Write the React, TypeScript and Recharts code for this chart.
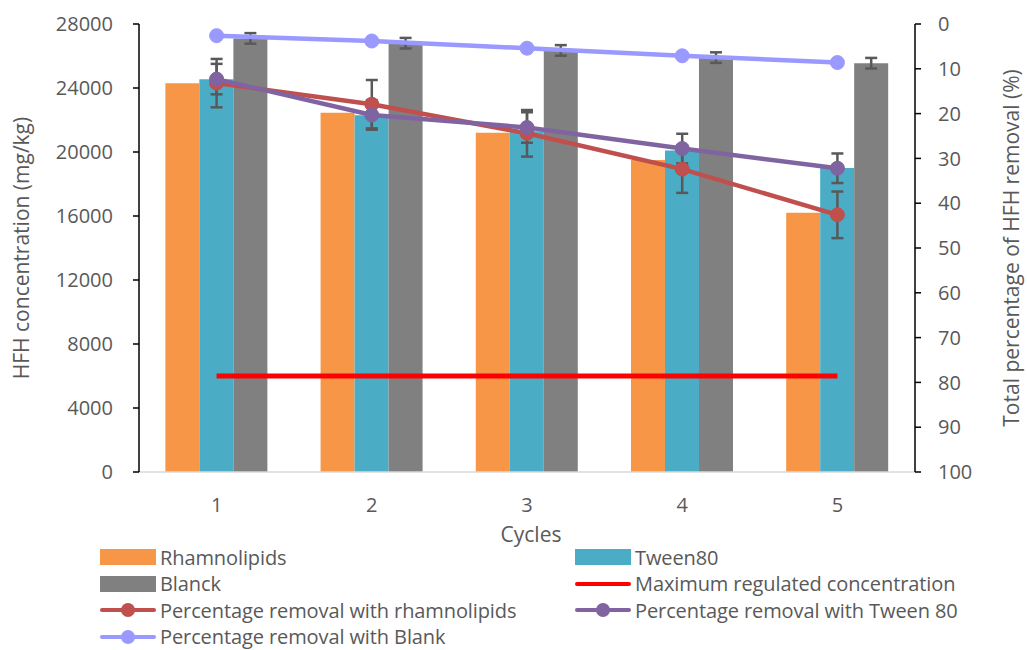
import { ComposedChart, Bar, Line, XAxis, YAxis, ErrorBar, Label } from 'recharts';

const cycles = ['1', '2', '3', '4', '5'];
const rhamnolipids = [24300, 22450, 21200, 19500, 16200];
const tween80 = [24550, 22300, 21300, 20100, 19000];
const blanck = [27100, 26800, 26350, 25900, 25550];
const blanckErr = [330, 330, 330, 330, 330];
const regulatedLimit = [6000, 6000, 6000, 6000, 6000];
const pctRhamno = [13.2, 17.9, 24.4, 32.4, 42.6];
const pctRhamnoErr = [5.4, 5.4, 5.2, 5.3, 5.2];
const pctTween = [12.3, 20.3, 23.1, 27.8, 32.2];
const pctTweenErr = [3.4, 3.3, 3.4, 3.3, 3.3];
const pctBlank = [2.6, 3.8, 5.4, 7.1, 8.6];

const leftTicks = [0, 4000, 8000, 12000, 16000, 20000, 24000, 28000];
const rightTicks = [0, 10, 20, 30, 40, 50, 60, 70, 80, 90, 100];

const data = cycles.map((c, i) => ({
  cycle: c,
  rhamnolipids: rhamnolipids[i],
  tween80: tween80[i],
  blanck: blanck[i],
  blanckErr: blanckErr[i],
  limit: regulatedLimit[i],
  pctRhamno: pctRhamno[i],
  pctRhamnoErr: pctRhamnoErr[i],
  pctTween: pctTween[i],
  pctTweenErr: pctTweenErr[i],
  pctBlank: pctBlank[i],
}));

const FONT = '"Open Sans", sans-serif';
const TEXT = '#595959';

const C = {
  orange: '#F79646',
  teal: '#4BACC6',
  gray: '#808080',
  limit: '#FF0000',
  rhamno: '#C0504D',
  tween: '#8064A2',
  blank: '#9999FF',
  err: '#595959',
};

type LegendItem = { label: string; kind: 'box' | 'line' | 'dot'; color: string };

const legendLeft: LegendItem[] = [
  { label: 'Rhamnolipids', kind: 'box', color: C.orange },
  { label: 'Blanck', kind: 'box', color: C.gray },
  { label: 'Percentage removal with rhamnolipids', kind: 'dot', color: C.rhamno },
  { label: 'Percentage removal with Blank', kind: 'dot', color: C.blank },
];
const legendRight: LegendItem[] = [
  { label: 'Tween80', kind: 'box', color: C.teal },
  { label: 'Maximum regulated concentration', kind: 'line', color: C.limit },
  { label: 'Percentage removal with Tween 80', kind: 'dot', color: C.tween },
];

function Swatch({ item }: { item: LegendItem }) {
  return (
    <svg width={56} height={20} style={{ display: 'block' }}>
      {item.kind === 'box' && <rect x={0} y={2} width={56} height={16} fill={item.color} />}
      {item.kind === 'line' && <line x1={2} x2={54} y1={10} y2={10} stroke={item.color} strokeWidth={4} strokeLinecap="round" />}
      {item.kind === 'dot' && (
        <g>
          <line x1={2} x2={54} y1={10} y2={10} stroke={item.color} strokeWidth={4} strokeLinecap="round" />
          <circle cx={28} cy={10} r={7} fill={item.color} />
        </g>
      )}
    </svg>
  );
}

function LegendColumn({ items, left }: { items: LegendItem[]; left: number }) {
  return (
    <div style={{ position: 'absolute', left, top: 544 }}>
      {items.map((it) => (
        <div key={it.label} style={{ display: 'flex', alignItems: 'center', height: 26.5 }}>
          <Swatch item={it} />
          <span style={{ marginLeft: 4, fontSize: 20, color: TEXT, fontFamily: FONT, whiteSpace: 'nowrap', letterSpacing: -0.1 }}>{it.label}</span>
        </div>
      ))}
    </div>
  );
}

export default function App() {
  const tick = { fill: TEXT, fontSize: 20, fontFamily: FONT };
  return (
    <div style={{ position: 'absolute', left: 0, top: 0, width: 1027, height: 650, background: '#fff' }}>
      <ComposedChart
        width={1027}
        height={650}
        data={data}
        margin={{ top: 24, right: 0, bottom: 118, left: 0 }}
        barCategoryGap="17%"
        barGap={0}
      >
        <XAxis
          dataKey="cycle"
          axisLine={{ stroke: '#D9D9D9', strokeWidth: 1.5 }}
          tickLine={false}
          tickSize={6}
          tickMargin={20}
          tick={tick}
          height={60}
        >
          <Label
            content={() => (
              <text x={531} y={542} textAnchor="middle" fill={TEXT} fontSize={21} fontFamily={FONT}>
                Cycles
              </text>
            )}
          />
        </XAxis>
        <YAxis
          yAxisId="left"
          width={139}
          domain={[0, 28000]}
          ticks={leftTicks}
          interval={0}
          axisLine={{ stroke: '#000', strokeWidth: 1.5 }}
          tickLine={{ stroke: '#000', strokeWidth: 1.5 }}
          tickSize={6}
          tickMargin={20}
          tick={tick}
        >
          <Label
            content={() => (
              <text x={29} y={248} transform="rotate(-90 29 248)" textAnchor="middle" fill={TEXT} fontSize={21} fontFamily={FONT}>
                HFH concentration (mg/kg)
              </text>
            )}
          />
        </YAxis>
        <YAxis
          yAxisId="right"
          orientation="right"
          width={112}
          domain={[0, 100]}
          reversed
          ticks={rightTicks}
          interval={0}
          axisLine={{ stroke: '#000', strokeWidth: 1.5 }}
          tickLine={{ stroke: '#000', strokeWidth: 1.5 }}
          tickSize={6}
          tickMargin={17}
          tick={tick}
        >
          <Label
            content={() => (
              <text x={1019} y={248} transform="rotate(-90 1019 248)" textAnchor="middle" fill={TEXT} fontSize={21} fontFamily={FONT}>
                Total percentage of HFH removal (%)
              </text>
            )}
          />
        </YAxis>

        <Bar yAxisId="left" dataKey="rhamnolipids" fill={C.orange} isAnimationActive={false} />
        <Bar yAxisId="left" dataKey="tween80" fill={C.teal} isAnimationActive={false} />
        <Bar yAxisId="left" dataKey="blanck" fill={C.gray} isAnimationActive={false}>
          <ErrorBar dataKey="blanckErr" width={6} stroke={C.err} strokeWidth={2.5} />
        </Bar>

        <Line yAxisId="left" dataKey="limit" stroke={C.limit} strokeWidth={5} dot={false} isAnimationActive={false} />

        <Line
          yAxisId="right"
          dataKey="pctRhamno"
          stroke={C.rhamno}
          strokeWidth={4.5}
          dot={{ r: 7, fill: C.rhamno, stroke: C.rhamno, strokeWidth: 1 }}
          isAnimationActive={false}
        >
          <ErrorBar dataKey="pctRhamnoErr" width={6} stroke={C.err} strokeWidth={2.5} />
        </Line>
        <Line
          yAxisId="right"
          dataKey="pctTween"
          stroke={C.tween}
          strokeWidth={4.5}
          dot={{ r: 7, fill: C.tween, stroke: C.tween, strokeWidth: 1 }}
          isAnimationActive={false}
        >
          <ErrorBar dataKey="pctTweenErr" width={6} stroke={C.err} strokeWidth={2.5} />
        </Line>
        <Line
          yAxisId="right"
          dataKey="pctBlank"
          stroke={C.blank}
          strokeWidth={4.5}
          dot={{ r: 7, fill: C.blank, stroke: C.blank, strokeWidth: 1 }}
          isAnimationActive={false}
        />
      </ComposedChart>
      <LegendColumn items={legendLeft} left={100} />
      <LegendColumn items={legendRight} left={575} />
    </div>
  );
}
